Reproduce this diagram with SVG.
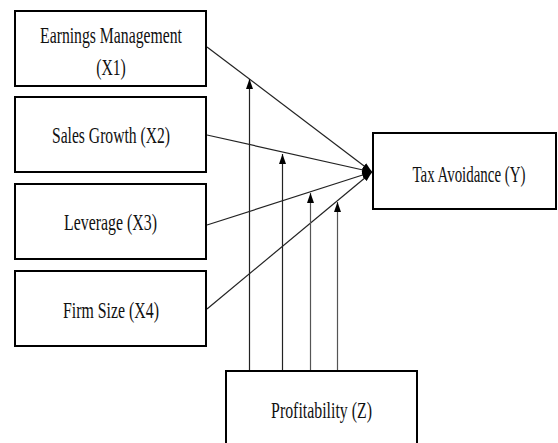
<svg xmlns="http://www.w3.org/2000/svg" width="558" height="443" viewBox="0 0 558 443">
<defs>
<marker id="arr" markerUnits="userSpaceOnUse" markerWidth="11" markerHeight="8" refX="10" refY="4" orient="auto">
<path d="M0,0.5 L10,4 L0,7.5 z" fill="#000"/>
</marker>
<style>
.box{fill:#fff;stroke:#000;stroke-width:2}
.lbl{font-family:"Liberation Serif","Times New Roman",serif;font-size:23px;fill:#111;text-anchor:middle}
.con{stroke:#222;stroke-width:1.2;fill:none}
.con2{stroke:#555;stroke-width:1.2;fill:none}
</style>
</defs>
<rect width="558" height="443" fill="#fff"/>
<g id="connectors">
<line class="con" x1="207" y1="47" x2="372" y2="172" marker-end="url(#arr)"/>
<line class="con" x1="207" y1="135" x2="372" y2="172" marker-end="url(#arr)"/>
<line class="con" x1="207" y1="225" x2="372" y2="172" marker-end="url(#arr)"/>
<line class="con" x1="207" y1="309" x2="372" y2="172" marker-end="url(#arr)"/>
<line class="con" x1="249.5" y1="371" x2="249.5" y2="79" marker-end="url(#arr)"/>
<line class="con" x1="282.5" y1="371" x2="282.5" y2="154" marker-end="url(#arr)"/>
<line class="con2" x1="310.5" y1="371" x2="310.5" y2="193" marker-end="url(#arr)"/>
<line class="con2" x1="337.5" y1="371" x2="337.5" y2="202" marker-end="url(#arr)"/>
</g>
<g id="x1">
<rect class="box" x="15" y="11" width="191" height="75"/>
<text class="lbl" transform="translate(111,43) scale(0.684,1)">Earnings Management</text>
<text class="lbl" transform="translate(111,75) scale(0.684,1)">(X1)</text>
</g>
<g id="x2">
<rect class="box" x="15" y="97" width="191" height="75"/>
<text class="lbl" transform="translate(111,143) scale(0.68,1)">Sales Growth (X2)</text>
</g>
<g id="x3">
<rect class="box" x="15" y="184" width="191" height="75"/>
<text class="lbl" transform="translate(110.5,230) scale(0.69,1)">Leverage (X3)</text>
</g>
<g id="x4">
<rect class="box" x="15" y="271" width="191" height="75"/>
<text class="lbl" transform="translate(111,318) scale(0.69,1)">Firm Size (X4)</text>
</g>
<g id="y">
<rect class="box" x="373" y="133" width="183" height="76"/>
<text class="lbl" transform="translate(469,182) scale(0.65,1)">Tax Avoidance (Y)</text>
</g>
<g id="z">
<rect class="box" x="226" y="371" width="191" height="90"/>
<text class="lbl" transform="translate(321.5,418) scale(0.69,1)">Profitability (Z)</text>
</g>
</svg>
